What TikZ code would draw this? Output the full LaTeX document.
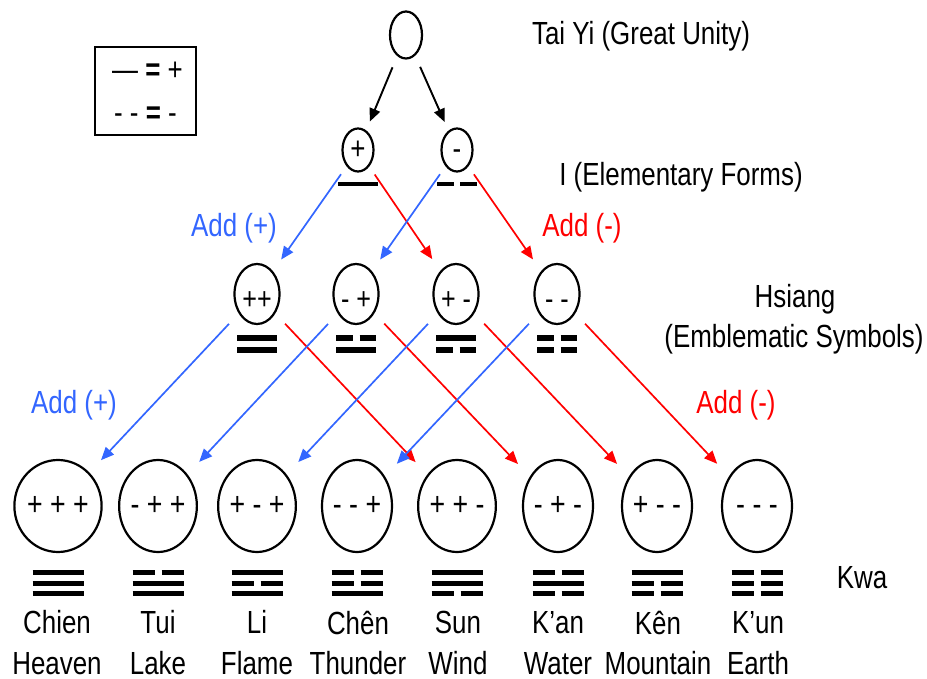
\documentclass[tikz,border=0pt]{standalone}
\usepackage{fontspec}
\setmainfont[FakeStretch=0.81]{Liberation Sans}
\usetikzlibrary{arrows.meta,shapes.geometric}
\definecolor{addblue}{RGB}{51,102,255}
\definecolor{addred}{RGB}{255,0,0}
% cx, y, type (1 solid / 0 broken), half width, half gap, thickness
\newcommand{\hexbar}[6]{%
  \ifnum#3=1 \draw[line width=#6] ({#1-#4},#2) -- ({#1+#4},#2);%
  \else \draw[line width=#6] ({#1-#4},#2) -- ({#1-#5},#2) ({#1+#5},#2) -- ({#1+#4},#2);\fi}
\begin{document}
\begin{tikzpicture}[x=1pt,y=-1pt,
  font=\fontsize{32}{38}\selectfont,
  wu/.style={ellipse, draw, line width=2.2pt, inner sep=0pt, text height=19pt, text depth=0pt},
  topc/.style={wu, minimum width=32pt, minimum height=47pt, outer sep=13pt},
  lone/.style={wu, minimum width=31pt, minimum height=43pt, outer sep=10.5pt},
  ltwo/.style={wu, minimum width=45pt, minimum height=60pt, outer sep=15pt, text height=30pt, font=\fontsize{31}{36}\selectfont},
  lthree/.style={wu, minimum width=70pt, minimum height=92pt, outer sep=18pt, font=\fontsize{33}{38}\selectfont},
  lbl/.style={anchor=base, inner sep=0pt},
  blk/.style={line width=1.9pt, -{Triangle[length=13pt,width=11pt]}},
  addp/.style={addblue, line width=1.7pt, -{Triangle[length=13pt,width=11pt]}},
  addm/.style={addred, line width=1.7pt, -{Triangle[length=13pt,width=11pt]}}
]
\useasboundingbox (0,0) rectangle (927,679);

% legend
\node[draw, line width=2pt, minimum width=101pt, minimum height=88pt, inner sep=0pt] (legend) at (145.5,91) {};
\node[lbl] (lg1) at (147.5,81) {— \textbf{=} +};
\node[lbl] (lg2) at (145.5,124) {- - \textbf{=} -};

% Tai Yi
\node[topc] (ty) at (406,35) {};
\node[lbl] (taiyi) at (641,45) {Tai Yi (Great Unity)};

% I
\node[lone] (p) at (358,150) {+};
\node[lone] (m) at (457,150) {-};
\hexbar{358}{184}{1}{20}{3}{4pt}
\hexbar{457}{184}{0}{20}{3}{4pt}
\node[lbl] (ielem) at (681,186) {I (Elementary Forms)};

% Hsiang
\node[ltwo] (h1) at (257,294) {++};
\node[ltwo] (h2) at (356,294) {- +};
\node[ltwo] (h3) at (456,294) {+ -};
\node[ltwo] (h4) at (557,294) {- -};
\foreach \cx/\a/\b in {257/1/1, 356/0/1, 456/1/0, 557/0/0}{
  \hexbar{\cx}{338}{\a}{20}{3.5}{5.5pt}
  \hexbar{\cx}{350}{\b}{20}{3.5}{5.5pt}
}
\node[lbl] (hs1) at (795,308) {Hsiang};
\node[lbl] (hs2) at (794,348) {(Emblematic Symbols)};

% Kwa
\node[lthree] (k1) at (58,506) {+ + +};
\node[lthree] (k2) at (158,506) {- + +};
\node[lthree] (k3) at (257,506) {+ - +};
\node[lthree] (k4) at (357,506) {- - +};
\node[lthree] (k5) at (457,506) {+ + -};
\node[lthree] (k6) at (558,506) {- + -};
\node[lthree] (k7) at (657,506) {+ - -};
\node[lthree] (k8) at (757,506) {- - -};
\foreach \cx/\a/\b/\c in {58/1/1/1, 158/0/1/1, 257/1/0/1, 357/0/0/1, 457/1/1/0, 558/0/1/0, 657/1/0/0, 757/0/0/0}{
  \hexbar{\cx}{572}{\a}{25.5}{3.5}{5pt}
  \hexbar{\cx}{583}{\b}{25.5}{3.5}{5pt}
  \hexbar{\cx}{593}{\c}{25.5}{3.5}{5pt}
}
\node[lbl] (kwa) at (862,588) {Kwa};

\node[lbl] (n1a) at (57,633) {Chien};   \node[lbl] (n1b) at (57,674) {Heaven};
\node[lbl] (n2a) at (158,633) {Tui};    \node[lbl] (n2b) at (158,674) {Lake};
\node[lbl] (n3a) at (257,633) {Li};     \node[lbl] (n3b) at (257,674) {Flame};
\node[lbl] (n4a) at (358,634) {Chên};   \node[lbl] (n4b) at (358,674) {Thunder};
\node[lbl] (n5a) at (458,633) {Sun};    \node[lbl] (n5b) at (458,674) {Wind};
\node[lbl] (n6a) at (558,633) {K’an};   \node[lbl] (n6b) at (558,674) {Water};
\node[lbl] (n7a) at (658,634) {Kên};    \node[lbl] (n7b) at (658,674) {Mountain};
\node[lbl] (n8a) at (758,633) {K’un};   \node[lbl] (n8b) at (758,674) {Earth};

% Add labels
\node[lbl, text=addblue] (ap1) at (234,237) {Add (+)};
\node[lbl, text=addred] (am1) at (582,237) {Add (-)};
\node[lbl, text=addblue] (ap2) at (74,413) {Add (+)};
\node[lbl, text=addred] (am2) at (736,413) {Add (-)};

% connectors
\draw[blk] (ty) -- (p);
\draw[blk] (ty) -- (m);
\draw[addp] (p) -- (h1);
\draw[addm] (p) -- (h3);
\draw[addp] (m) -- (h2);
\draw[addm] (m) -- (h4);
\foreach \i/\j in {1/5, 2/6, 3/7, 4/8}{
  \draw[addp] (h\i) -- (k\i);
  \draw[addm] (h\i) -- (k\j);
}
\end{tikzpicture}
\end{document}
